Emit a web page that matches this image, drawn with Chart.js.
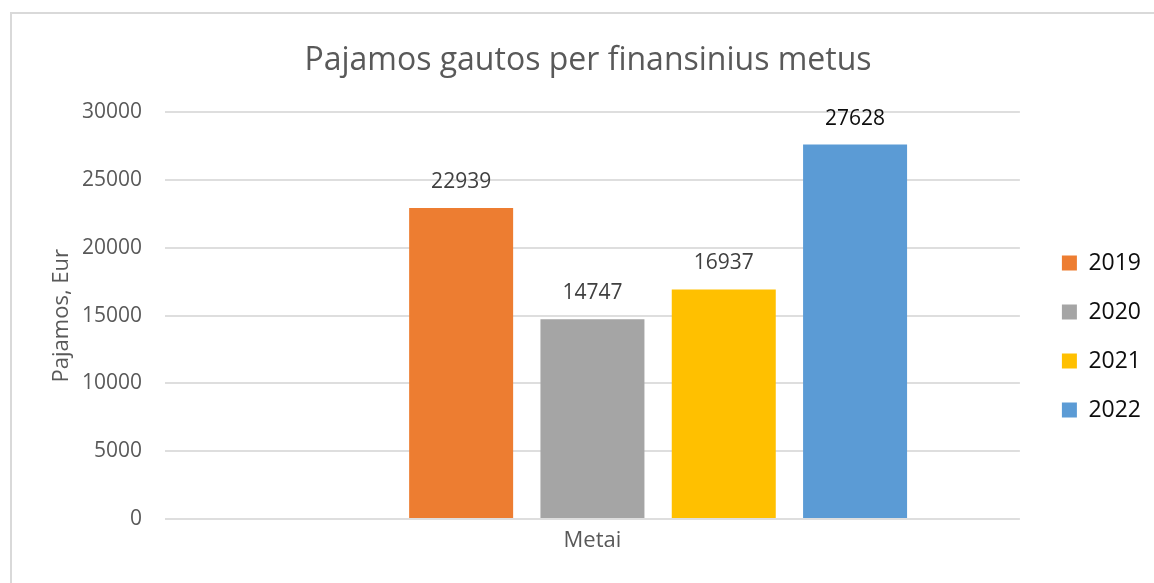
<!DOCTYPE html>
<html>
<head>
<meta charset="utf-8">
<script src="https://cdn.jsdelivr.net/npm/chart.js@4"></script>
<style>
    html, body { margin: 0; padding: 0; background: #fff; }
    #wrap { position: relative; width: 1154px; height: 583px; overflow: hidden; }
    #frame { position: absolute; left: 10px; top: 12px; width: 1200px; height: 600px;
             border-left: 2px solid #d9d9d9; border-top: 2px solid #d9d9d9; box-sizing: border-box; }
    #chart { position: absolute; left: 0; top: 0; }
</style>
</head>
<body>
<div id="wrap">
    <div id="frame"></div>
    <canvas id="chart" width="1154" height="583"></canvas>
</div>
<script>
// Chart data
const categories = ['Metai'];
const years = ['2019', '2020', '2021', '2022'];
const revenue = [22939, 14747, 16937, 27628];
const yTicks = [0, 5000, 10000, 15000, 20000, 25000, 30000];

const barColors = ['#ED7D31', '#A5A5A5', '#FFC000', '#5B9BD5'];
const labelColors = ['#404040', '#404040', '#404040', '#0d0d0d'];

Chart.defaults.font.family = '"Open Sans", sans-serif';

// Excel leaves an empty first series slot, so keep a blank one
const datasets = [{ label: '', data: [null], backgroundColor: 'transparent' }];
years.forEach((y, i) => {
    datasets.push({
        label: y,
        data: [revenue[i]],
        backgroundColor: barColors[i],
        labelColor: labelColors[i]
    });
});

// Value labels above each bar
const barLabels = {
    id: 'barLabels',
    afterDatasetsDraw(chart) {
        const ctx = chart.ctx;
        ctx.save();
        ctx.font = '21px "Open Sans"';
        ctx.textAlign = 'center';
        ctx.textBaseline = 'middle';
        chart.data.datasets.forEach((ds, i) => {
            if (!ds.label) return;
            chart.getDatasetMeta(i).data.forEach((bar, j) => {
                const v = ds.data[j];
                if (v == null) return;
                ctx.fillStyle = ds.labelColor;
                ctx.fillText(String(v), bar.x, bar.y - 26);
            });
        });
        ctx.restore();
    }
};

new Chart(document.getElementById('chart'), {
    type: 'bar',
    data: { labels: categories, datasets: datasets },
    plugins: [barLabels],
    options: {
        responsive: false,
        animation: false,
        categoryPercentage: 0.768,
        barPercentage: 0.792,
        layout: { padding: { left: 25, right: 3, top: 12, bottom: 0 } },
        plugins: {
            title: {
                display: true,
                text: 'Pajamos gautos per finansinius metus',
                color: '#595959',
                font: { size: 32, weight: 'normal' },
                padding: { top: 30, bottom: 32 }
            },
            legend: {
                position: 'right',
                title: { display: true, text: ' ', font: { size: 10 }, padding: 33 },
                labels: {
                    color: '#0d0d0d',
                    font: { size: 23 },
                    boxWidth: 15,
                    boxHeight: 15,
                    padding: 26,
                    filter: item => item.text !== ''
                }
            },
            tooltip: { enabled: false }
        },
        scales: {
            x: {
                grid: { display: false },
                border: { display: false },
                ticks: { color: '#595959', font: { size: 22 }, padding: 1 },
                afterFit: s => { s.height = 64; }
            },
            y: {
                min: 0,
                max: 30000,
                afterBuildTicks: s => { s.ticks = yTicks.map(v => ({ value: v })); },
                grid: { color: '#dedede', lineWidth: 2, drawTicks: false },
                border: { display: false },
                ticks: { color: '#595959', font: { size: 21 }, padding: 23, callback: v => String(v) },
                title: {
                    display: true,
                    text: 'Pajamos, Eur',
                    color: '#595959',
                    font: { size: 22 },
                    padding: { top: 24, bottom: 0 }
                },
                afterFit: s => { s.width = 140; }
            },
            gap: {
                type: 'linear',
                position: 'right',
                display: true,
                grid: { display: false },
                border: { display: false },
                ticks: { display: false },
                afterFit: s => { s.width = 16; }
            }
        }
    }
});
</script>
</body>
</html>
